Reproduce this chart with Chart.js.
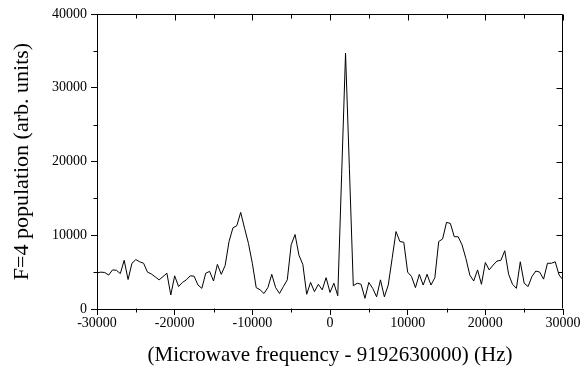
<!DOCTYPE html>
<html>
<head>
<meta charset="utf-8">
<script src="https://cdn.jsdelivr.net/npm/chart.js@4.4.1/dist/chart.umd.min.js"></script>
<style>
  html, body { margin: 0; padding: 0; background: #fff; }
</style>
</head>
<body>
<canvas id="spectrumChart" width="585" height="378"></canvas>
<script>
// Frequence relative (Hz) par rapport a 9192630000 Hz
const frequencies = [
  -30000, -29500, -29000, -28500, -28000, -27500, -27000, -26500, -26000, -25500,
  -25000, -24500, -24000, -23500, -23000, -22500, -22000, -21500, -21000, -20500,
  -20000, -19500, -19000, -18500, -18000, -17500, -17000, -16500, -16000, -15500,
  -15000, -14500, -14000, -13500, -13000, -12500, -12000, -11500, -11000, -10500,
  -10000, -9500, -9000, -8500, -8000, -7500, -7000, -6500, -6000, -5500,
  -5000, -4500, -4000, -3500, -3000, -2500, -2000, -1500, -1000, -500,
  0, 500, 1000, 1500, 2000, 2500, 3000, 3500, 4000, 4500,
  5000, 5500, 6000, 6500, 7000, 7500, 8000, 8500, 9000, 9500,
  10000, 10500, 11000, 11500, 12000, 12500, 13000, 13500, 14000, 14500,
  15000, 15500, 16000, 16500, 17000, 17500, 18000, 18500, 19000, 19500,
  20000, 20500, 21000, 21500, 22000, 22500, 23000, 23500, 24000, 24500,
  25000, 25500, 26000, 26500, 27000, 27500, 28000, 28500, 29000, 29500,
  30000
];

// Population F=4 (unites arbitraires)
const population = [
  4900, 5000, 4950, 4600, 5300, 5250, 4800, 6600, 4000, 6200,
  6700, 6400, 6200, 5000, 4750, 4350, 3950, 4400, 4850, 1900,
  4500, 3050, 3600, 3950, 4500, 4450, 3250, 2800, 4850, 5100,
  3800, 6050, 4700, 5900, 9150, 11000, 11300, 13100, 10950, 8900,
  6200, 2900, 2600, 2100, 2900, 4700, 2900, 2100, 3050, 3950,
  8700, 10100, 7300, 6050, 2000, 3600, 2350, 3350, 2600, 4250,
  2250, 3500, 1800, 18200, 34700, 19000, 3150, 3500, 3350, 1450,
  3600, 2800, 1650, 3950, 1650, 3250, 6850, 10500, 9150, 9050,
  5000, 4400, 2900, 4700, 3250, 4700, 3250, 4250, 9150, 9500,
  11750, 11600, 9800, 9800, 8700, 6850, 4600, 3800, 5300, 3350,
  6300, 5300, 5950, 6500, 6600, 7900, 4700, 3350, 2800, 6400,
  3500, 3050, 4400, 5150, 5000, 4050, 6200, 6200, 6400, 4600,
  3950
];

const xTicks = [-30000, -20000, -10000, 0, 10000, 20000, 30000];
const xMinorTicks = [-25000, -15000, -5000, 5000, 15000, 25000];
const yTicks = [0, 10000, 20000, 30000, 40000];
const yMinorTicks = [5000, 15000, 25000, 35000];

const serif = 'Liberation Serif';

// cadre + graduations mineures / interieures
const frameTicks = {
  id: 'frameTicks',
  afterDraw(chart) {
    const ctx = chart.ctx;
    const area = chart.chartArea;
    const xs = chart.scales.x;
    const ys = chart.scales.y;
    const top = Math.round(area.top) + 0.5;
    const bottom = Math.round(area.bottom) - 0.5;
    const left = Math.round(area.left) + 0.5;
    const right = Math.round(area.right) - 0.5;
    ctx.save();
    ctx.strokeStyle = '#000';
    ctx.lineWidth = 1;
    ctx.beginPath();
    ctx.moveTo(left, top); ctx.lineTo(right, top); ctx.lineTo(right, bottom);
    xTicks.forEach(v => {
      const px = Math.round(xs.getPixelForValue(v)) + 0.5;
      ctx.moveTo(px, top); ctx.lineTo(px, top + 6);
    });
    xMinorTicks.forEach(v => {
      const px = Math.round(xs.getPixelForValue(v)) + 0.5;
      ctx.moveTo(px, bottom); ctx.lineTo(px, bottom + 4);
      ctx.moveTo(px, top); ctx.lineTo(px, top + 4);
    });
    yTicks.forEach(v => {
      const py = Math.round(ys.getPixelForValue(v)) + 0.5;
      ctx.moveTo(right, py); ctx.lineTo(right - 6, py);
    });
    yMinorTicks.forEach(v => {
      const py = Math.round(ys.getPixelForValue(v)) + 0.5;
      ctx.moveTo(left, py); ctx.lineTo(left - 4, py);
      ctx.moveTo(right, py); ctx.lineTo(right - 4, py);
    });
    ctx.stroke();
    ctx.restore();
  }
};

const spectrumCtx = document.getElementById('spectrumChart').getContext('2d');

const spectrumChart = new Chart(spectrumCtx, {
    type: 'line',
    data: {
        datasets: [{
            data: frequencies.map((f, i) => ({ x: f, y: population[i] })),
            borderColor: '#000',
            borderWidth: 1,
            pointRadius: 0,
            tension: 0,
            fill: false
        }]
    },
    options: {
        responsive: false,
        animation: false,
        layout: { padding: { top: 14, right: 22, bottom: 0, left: 0 } },
        plugins: {
            legend: { display: false },
            tooltip: { enabled: false }
        },
        scales: {
            x: {
                type: 'linear',
                min: -30000,
                max: 30000,
                afterBuildTicks: s => { s.ticks = xTicks.map(v => ({ value: v })); },
                afterFit: s => { s.height = 69; },
                grid: { drawOnChartArea: false, tickLength: 6, color: '#000' },
                border: { color: '#000' },
                ticks: {
                    color: '#000',
                    padding: 0,
                    maxRotation: 0,
                    font: { family: serif, size: 14 },
                    callback: v => String(v)
                },
                title: {
                    display: true,
                    text: '(Microwave frequency - 9192630000) (Hz)',
                    color: '#000',
                    font: { family: serif, size: 21, lineHeight: 1.2 },
                    padding: { top: 0, bottom: 10 }
                }
            },
            y: {
                min: 0,
                max: 40000,
                afterBuildTicks: s => { s.ticks = yTicks.map(v => ({ value: v })); },
                afterFit: s => { s.width = 97; },
                grid: { drawOnChartArea: false, tickLength: 6, color: '#000' },
                border: { color: '#000' },
                ticks: {
                    color: '#000',
                    padding: 4,
                    font: { family: serif, size: 14 },
                    callback: v => String(v)
                },
                title: {
                    display: true,
                    text: 'F=4 population (arb. units)',
                    color: '#000',
                    font: { family: serif, size: 22, lineHeight: 1.2 },
                    padding: { top: 9, bottom: 0 }
                }
            }
        }
    },
    plugins: [frameTicks]
});
</script>
</body>
</html>
